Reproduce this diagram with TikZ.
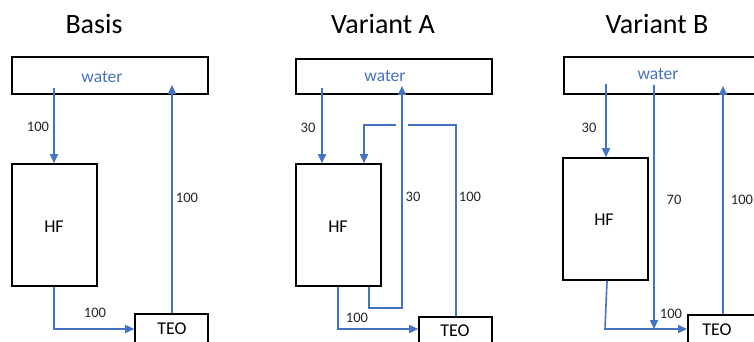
\documentclass[tikz,border=0pt]{standalone}
\usepackage{fontspec}
\setmainfont{Carlito}
\usetikzlibrary{arrows.meta}
\definecolor{flowblue}{HTML}{4472C4}
\tikzset{
  box/.style={draw=black, line width=1.6pt, inner sep=0pt},
  flow/.style={draw=flowblue, line width=1.6pt},
  arr/.style={flow, -{Triangle[length=9pt,width=8pt]}},
  lbl/.style={font=\fontsize{14.5}{16}\selectfont, text=black!85, inner sep=0pt},
  ttl/.style={font=\fontsize{28}{32}\selectfont, inner sep=0pt},
  nm/.style={font=\fontsize{18}{20}\selectfont, inner sep=0pt},
  wt/.style={font=\fontsize{17.5}{20}\selectfont, text=flowblue, inner sep=0pt}
}
\begin{document}
\begin{tikzpicture}[x=1pt,y=-1pt]
\clip (0,0) rectangle (754,342);
\fill[white] (0,0) rectangle (754,342);

% ---------- titles ----------
\node[ttl] (tB) at (94,24) {Basis};
\node[ttl] (tA) at (383,24) {Variant A};
\node[ttl] (tV) at (657,24) {Variant B};

% ---------- Basis ----------
\node[box, minimum width=196pt, minimum height=37pt] (wB) at (110,75.5) {};
\node[wt] (wBt) at (102,77) {water};
\node[box, minimum width=85pt, minimum height=122pt] (hB) at (54.5,225) {};
\node[nm] (hBt) at (54,227) {HF};
\node[box, minimum width=73pt, minimum height=34pt, anchor=north] (eB) at (171.5,313) {};
\node[nm] (eBt) at (172,329) {TEO};
\coordinate (b1) at (54,88);
\coordinate (b2) at (54,329);
\coordinate (b3) at (172,85);
\draw[arr] (b1) -- (hB.north -| b1);
\draw[arr] (hB.south -| b2) -- (b2) -- (eB.west |- b2);
\draw[arr] (eB.north -| b3) -- (b3);
\node[lbl] (lB1) at (38,127) {100};
\node[lbl] (lB2) at (95,313) {100};
\node[lbl] (lB3) at (187,198) {100};

% ---------- Variant A ----------
\node[box, minimum width=196pt, minimum height=35pt] (wA) at (394,76.5) {};
\node[wt] (wAt) at (385,76) {water};
\node[box, minimum width=85pt, minimum height=122pt] (hA) at (338.5,225) {};
\node[nm] (hAt) at (338,227) {HF};
\node[box, minimum width=73pt, minimum height=34pt, anchor=north] (eA) at (455.5,316) {};
\node[nm] (eAt) at (455,331) {TEO};
\coordinate (a1) at (322,88);
\coordinate (a2) at (338,329);
\coordinate (a3) at (369,308);
\coordinate (a4) at (402,308);
\coordinate (a5) at (402,86);
\coordinate (a6) at (456,125);
\coordinate (a7) at (408,125);
\coordinate (a8) at (396,125);
\coordinate (a9) at (364,125);
\draw[arr] (a1) -- (hA.north -| a1);
\draw[arr] (hA.south -| a2) -- (a2) -- (eA.west |- a2);
\draw[arr] (hA.south -| a3) -- (a3) -- (a4) -- (a5);
\draw[flow] (eA.north -| a6) -- (a6) -- (a7);
\draw[arr] (a8) -- (a9) -- (hA.north -| a9);
\node[lbl] (lA1) at (308,128) {30};
\node[lbl] (lA2) at (413,197) {30};
\node[lbl] (lA3) at (470,197) {100};
\node[lbl] (lA4) at (357,318) {100};

% ---------- Variant B ----------
\node[box, minimum width=210pt, minimum height=37pt, anchor=west] (wV) at (563,75.5) {};
\node[wt] (wVt) at (658,74) {water};
\node[box, minimum width=85pt, minimum height=122pt] (hV) at (605.5,219) {};
\node[nm] (hVt) at (604,220) {HF};
\node[box, minimum width=90pt, minimum height=34pt, anchor=north west] (eV) at (687,314) {};
\node[nm] (eVt) at (717,330) {TEO};
\coordinate (v1) at (606,84);
\coordinate (v2) at (654,85);
\coordinate (v3) at (654,329);
\coordinate (v4) at (605,329);
\coordinate (v5) at (723,86);
\draw[arr] (v1) -- (hV.north -| v1);
\draw[arr] (v2) -- (v3);
\draw[arr] (hV.south -| 607,0) -- (v4) -- (eV.west |- v4);
\draw[arr] (eV.north -| v5) -- (v5);
\node[lbl] (lV1) at (589,128) {30};
\node[lbl] (lV2) at (674,200) {70};
\node[lbl] (lV3) at (742,200) {100};
\node[lbl] (lV4) at (671,314) {100};
\end{tikzpicture}
\end{document}
